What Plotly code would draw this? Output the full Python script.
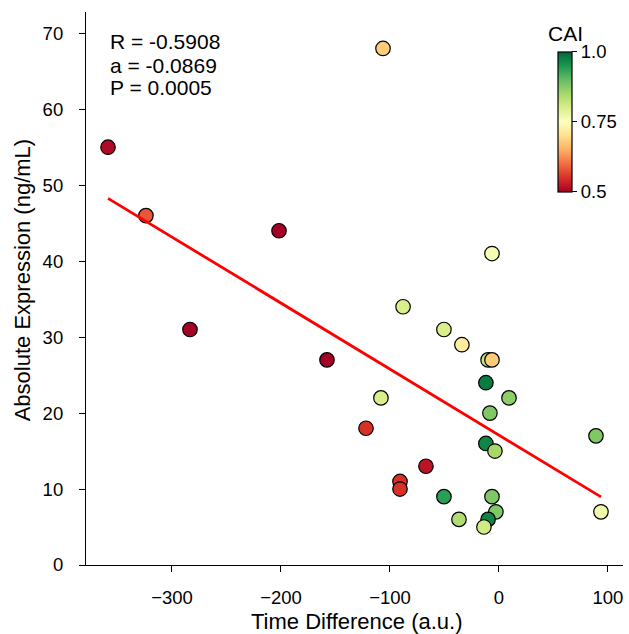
import plotly.graph_objects as go

time_diff = [-358.7, -323.9, -283.5, -201.8, -157.8, -106.4, -122.0, -108.3, -88.0, -50.5,
             -34.0, -6.4, -10.0, -6.4, -12.0, -8.3, 9.2, -12.0, -3.7, 89.0,
             93.6, -90.8, -90.8, -67.0, -50.5, -36.7, -6.4, -2.8, -10.0, -13.8]
expression = [55, 46, 31, 44, 27, 68, 18, 22, 34, 31,
              29, 41, 27, 27, 24, 20, 22, 16, 15, 17,
              7, 11, 10, 13, 9, 6, 9, 7, 6, 5]
cai = [0.51, 0.58, 0.50, 0.50, 0.50, 0.68, 0.55, 0.80, 0.80, 0.80,
       0.72, 0.76, 0.82, 0.68, 0.98, 0.88, 0.87, 0.97, 0.85, 0.88,
       0.77, 0.55, 0.55, 0.52, 0.94, 0.84, 0.88, 0.88, 0.97, 0.81]
fit_slope = -0.0869
fit_intercept = 17.1
stats_text = ["R = -0.5908", "a = -0.0869", "P = 0.0005"]
x_ticks = [-300, -200, -100, 0, 100]
x_tick_labels = ["\u2212300", "\u2212200", "\u2212100", "0", "100"]
y_ticks = [0, 10, 20, 30, 40, 50, 60, 70]
cbar_ticks = [0.5, 0.75, 1.0]
cbar_labels = ["0.5", "0.75", "1.0"]
x_title = "Time Difference (a.u.)"
y_title = "Absolute Expression (ng/mL)"
cbar_title = "CAI"

FONT = "Liberation Sans, Arial, sans-serif"
TICK_FONT = dict(size=18.5, family=FONT, color="black")
TITLE_FONT = dict(size=22, family=FONT, color="black")

fx = [min(time_diff), max(time_diff)]
fy = [fit_slope * v + fit_intercept for v in fx]

fig = go.Figure()
fig.add_trace(go.Scatter(
    x=time_diff, y=expression, mode="markers", showlegend=False,
    marker=dict(
        size=14.5, color=cai, colorscale="RdYlGn", cmin=0.5, cmax=1.0,
        line=dict(color="black", width=1.2), opacity=1,
        colorbar=dict(
            x=0.879, xanchor="left", xref="paper",
            y=0.928, yanchor="top", yref="paper",
            thickness=14, thicknessmode="pixels",
            len=140, lenmode="pixels",
            outlinewidth=1.2, outlinecolor="black",
            tickvals=cbar_ticks, ticktext=cbar_labels,
            ticks="outside", ticklen=5, tickcolor="black",
            tickfont=TICK_FONT,
            xpad=0, ypad=0, bgcolor="rgba(0,0,0,0)",
        ),
    ),
))
fig.add_trace(go.Scatter(
    x=fx, y=fy, mode="lines", line=dict(color="#ff0000", width=2.8),
    showlegend=False, hoverinfo="skip"))

# stats lines
for txt, yy in zip(stats_text, [0.946, 0.904, 0.864]):
    fig.add_annotation(
        text=txt, xref="paper", yref="paper", x=0.041, y=yy,
        xanchor="left", yanchor="middle", showarrow=False,
        font=dict(size=21, family=FONT, color="black"))

# colorbar title
fig.add_annotation(
    text=cbar_title, xref="paper", yref="paper", x=0.892, y=0.962,
    xanchor="center", yanchor="middle", showarrow=False,
    font=dict(size=21, family=FONT, color="black"))

# axis titles
fig.add_annotation(
    text=x_title, xref="paper", yref="paper", x=0.505, y=-0.103,
    xanchor="center", yanchor="middle", showarrow=False, font=TITLE_FONT)
fig.add_annotation(
    text=y_title, xref="paper", yref="paper", x=-0.119, y=0.515,
    xanchor="center", yanchor="middle", showarrow=False, textangle=-90,
    font=TITLE_FONT)

fig.update_layout(
    width=629, height=634,
    margin=dict(l=86, r=6, t=12, b=69, autoexpand=False),
    plot_bgcolor="white", paper_bgcolor="white",
    font=dict(family=FONT, color="black"),
    xaxis=dict(
        range=[-378.9, 113.8], tickvals=x_ticks, ticktext=x_tick_labels,
        showgrid=False, zeroline=False, showline=True, linecolor="black", linewidth=1.2,
        ticks="outside", ticklen=6, tickcolor="black", ticklabelstandoff=10,
        tickfont=TICK_FONT, automargin=False,
    ),
    yaxis=dict(
        range=[0, 72.8], tickvals=y_ticks,
        showgrid=False, zeroline=False, showline=True, linecolor="black", linewidth=1.2,
        ticks="outside", ticklen=6, tickcolor="black", ticklabelstandoff=12,
        tickfont=TICK_FONT, automargin=False,
    ),
)

fig.write_html(
    "out.html",
    config={"displayModeBar": False},
    post_script="document.body.style.margin='0';document.body.style.padding='0';document.body.style.overflow='hidden';",
)
